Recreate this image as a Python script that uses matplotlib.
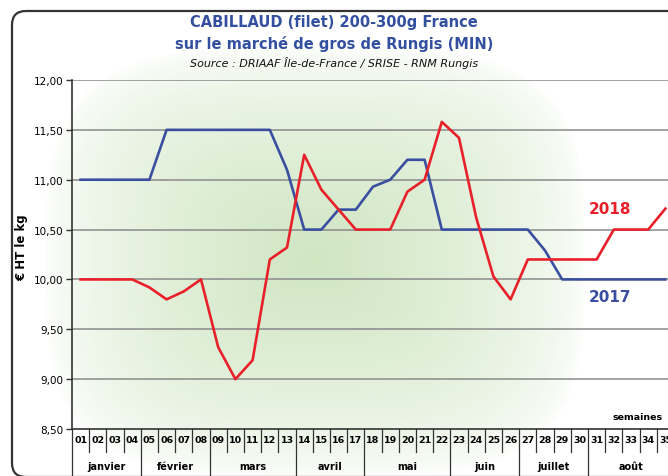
import numpy as np
import matplotlib
matplotlib.use("Agg")
import matplotlib.pyplot as plt
from matplotlib.transforms import blended_transform_factory
from matplotlib.patches import FancyBboxPatch

weeks = [f"{i:02d}" for i in range(1, 36)]
prix_2017 = [11.00, 11.00, 11.00, 11.00, 11.00, 11.50, 11.50, 11.50, 11.50, 11.50,
             11.50, 11.50, 11.10, 10.50, 10.50, 10.70, 10.70, 10.93, 11.00, 11.20,
             11.20, 10.50, 10.50, 10.50, 10.50, 10.50, 10.50, 10.29, 10.00, 10.00,
             10.00, 10.00, 10.00, 10.00, 10.00]
prix_2018 = [10.00, 10.00, 10.00, 10.00, 9.92, 9.80, 9.88, 10.00, 9.32, 9.00,
             9.19, 10.20, 10.32, 11.25, 10.90, 10.70, 10.50, 10.50, 10.50, 10.88,
             11.00, 11.58, 11.42, 10.62, 10.03, 9.80, 10.20, 10.20, 10.20, 10.20,
             10.20, 10.50, 10.50, 10.50, 10.71]
months = ["janvier", "février", "mars", "avril", "mai", "juin", "juillet", "août"]
month_weeks = [4, 4, 5, 4, 5, 4, 4, 5]
yticks = [8.5, 9.0, 9.5, 10.0, 10.5, 11.0, 11.5, 12.0]

W, H = 668, 477
fig = plt.figure(figsize=(W / 100, H / 100), dpi=100)
fig.patch.set_facecolor("white")

# background gradient
bg = fig.add_axes([0, 0, 1, 1], zorder=0)
bg.set_xlim(0, W); bg.set_ylim(H, 0); bg.axis("off")
xx, yy = np.meshgrid(np.arange(W), np.arange(H))
p = 3.5
d = (np.abs((xx - 315) / 270.0) ** p + np.abs((yy - 262) / 215.0) ** p) ** (1 / p)
t = np.clip(1 - d, 0, 1) ** 0.6
c0 = np.array([1.0, 1.0, 1.0]); c1 = np.array([208, 230, 195]) / 255.0
img = c0[None, None, :] * (1 - t[..., None]) + c1[None, None, :] * t[..., None]
mask = (xx >= 12) & (yy >= 12)
img[~mask] = 1.0
bg.imshow(img, extent=(0, W, H, 0), aspect="auto", interpolation="bilinear")
frame = FancyBboxPatch((12, 12), 700, 466, boxstyle="round,pad=0,rounding_size=14",
                       fill=False, ec="#333333", lw=1.6)
bg.add_patch(frame)

# main axes
left = 72 / W
cell = 17.2
width = 35 * cell / W
bottom = 1 - 430 / H
height = (430 - 81) / H
ax = fig.add_axes([left, bottom, width, height], zorder=2)
ax.patch.set_alpha(0)

x = np.arange(1, 36)
ax.plot(x, prix_2017, color="#3a4fa0", lw=1.9, zorder=3)
ax.plot(x, prix_2018, color="#e8202a", lw=1.9, zorder=4)

ax.set_xlim(0.5, 35.5)
ax.set_ylim(8.5, 12.0)
ax.set_yticks(yticks)
ax.set_yticklabels([f"{v:.2f}".replace(".", ",") for v in yticks], fontsize=7.5)
ax.tick_params(axis="y", direction="out", length=4, width=1, color="#333333", pad=2)
ax.set_xticks([])
for v in yticks[1:]:
    ax.axhline(v, color="#8a8a8a", lw=1.1, zorder=1)
for s in ["top", "right"]:
    ax.spines[s].set_visible(False)
ax.spines["left"].set_color("#333333")
ax.spines["bottom"].set_color("#333333")
ax.spines["left"].set_linewidth(1.2)
ax.spines["bottom"].set_linewidth(1.2)

# category table below the axis
tr = blended_transform_factory(ax.transData, ax.transAxes)
axh = 430 - 81
row1 = -23 / axh
row2 = -50 / axh
for i, wk in enumerate(weeks):
    ax.text(i + 1, -11 / axh, wk, transform=tr, ha="center", va="center",
            fontsize=6.8, fontweight="bold", clip_on=False)
bounds = np.cumsum([0] + month_weeks)
for b in range(0, 36):
    yb = row2 if b in bounds else row1
    ax.plot([b + 0.5, b + 0.5], [0, yb], transform=tr, color="#333333", lw=0.9,
            clip_on=False)
for m, s, e in zip(months, bounds[:-1], bounds[1:]):
    ax.text((s + e) / 2 + 0.5, -37 / axh, m, transform=tr, ha="center", va="center",
            fontsize=7, fontweight="bold", clip_on=False)

# annotations
fig.text(610 / W, 1 - 210 / H, "2018", color="#e8202a",
         fontsize=11, fontweight="bold", ha="center", va="center")
fig.text(610 / W, 1 - 298 / H, "2017", color="#3a4fa0",
         fontsize=11, fontweight="bold", ha="center", va="center")
fig.text(638 / W, 1 - 418 / H, "semaines", fontsize=6.8, fontweight="bold",
         ha="center", va="center")
fig.text(22 / W, 1 - 248 / H, "€ HT le kg", rotation=90, fontsize=8.5,
         fontweight="bold", ha="center", va="center")

# titles
tcol = "#3350a0"
fig.text(334 / W, 1 - 23 / H, "CABILLAUD (filet) 200-300g France", color=tcol,
         fontsize=10.5, fontweight="bold", ha="center", va="center")
fig.text(334 / W, 1 - 44 / H, "sur le marché de gros de Rungis (MIN)", color=tcol,
         fontsize=10.5, fontweight="bold", ha="center", va="center")
fig.text(334 / W, 1 - 63 / H, "Source : DRIAAF Île-de-France / SRISE - RNM Rungis",
         color="#111111", fontsize=8, fontstyle="italic", ha="center", va="center")

fig.savefig("out.png", dpi=100)
